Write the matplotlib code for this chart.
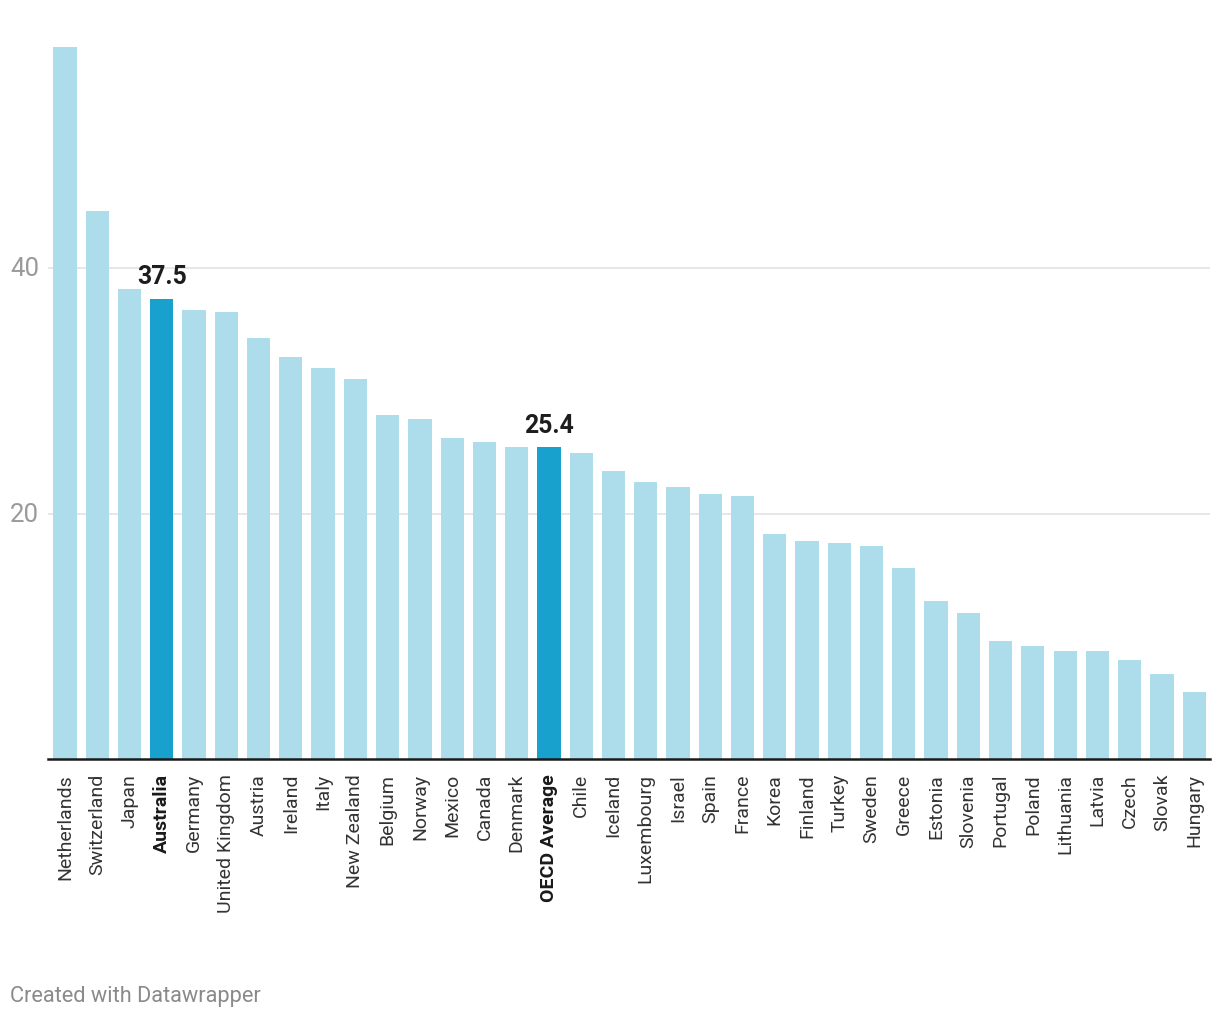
import matplotlib.pyplot as plt

plt.rcParams['font.family'] = ['Roboto', 'DejaVu Sans']

countries = ['Netherlands', 'Switzerland', 'Japan', 'Australia', 'Germany', 'United Kingdom',
             'Austria', 'Ireland', 'Italy', 'New Zealand', 'Belgium', 'Norway', 'Mexico',
             'Canada', 'Denmark', 'OECD Average', 'Chile', 'Iceland', 'Luxembourg', 'Israel',
             'Spain', 'France', 'Korea', 'Finland', 'Turkey', 'Sweden', 'Greece', 'Estonia',
             'Slovenia', 'Portugal', 'Poland', 'Lithuania', 'Latvia', 'Czech', 'Slovak', 'Hungary']
values = [58.0, 44.7, 38.3, 37.5, 36.6, 36.4, 34.3, 32.8, 31.9, 31.0, 28.0, 27.7, 26.2,
          25.8, 25.4, 25.4, 24.9, 23.5, 22.6, 22.2, 21.6, 21.4, 18.3, 17.8, 17.6, 17.4,
          15.6, 12.9, 11.9, 9.6, 9.2, 8.8, 8.8, 8.1, 6.9, 5.5]
highlighted = ['Australia', 'OECD Average']
yticks = [20, 40]

light = '#addceb'
dark = '#18a1cd'

W, H = 1220, 1020
fig = plt.figure(figsize=(W / 100, H / 100), dpi=100)
top_px = 760 - 60 * 12.27
ax = fig.add_axes([48 / W, 1 - 760 / H, (1210 - 48) / W, (760 - top_px) / H])

x = list(range(len(countries)))
colors = [dark if c in highlighted else light for c in countries]
ax.bar(x, values, width=0.72, color=colors, zorder=2)

ax.set_xlim(-0.527, 35.49)
ax.set_ylim(0, 60)

for t in yticks:
    ax.axhline(t, color='#e3e3e3', lw=1.2, zorder=1)
    ax.text(-0.527 - 38 / 32.26, t, str(t), ha='left', va='center',
            fontsize=18.5, color='#9a9a9a')

for s in ['top', 'right', 'left']:
    ax.spines[s].set_visible(False)
ax.spines['bottom'].set_color('#1a1a1a')
ax.spines['bottom'].set_linewidth(1.8)
ax.spines['bottom'].set_zorder(3)
ax.set_yticks([])
ax.set_xticks(x)
ax.set_xticklabels(countries, rotation=90, fontsize=14, color='#333333')
ax.tick_params(axis='x', length=0, pad=10)
for lbl in ax.get_xticklabels():
    if lbl.get_text() in highlighted:
        lbl.set_fontweight('bold')
        lbl.set_color('#1a1a1a')

for i, (c, v) in enumerate(zip(countries, values)):
    if c in highlighted:
        ax.annotate(f'{v:.1f}', (i, v), xytext=(0, 7.5), textcoords='offset points',
                    ha='center', va='bottom', fontsize=17.8, fontweight='bold', color='#1d1d1d')

fig.text(10 / W, 1 - 997 / H, 'Created with Datawrapper', ha='left', va='center',
         fontsize=15.7, color='#8a8a8a')

fig.savefig('out.png', dpi=100, facecolor='white')
